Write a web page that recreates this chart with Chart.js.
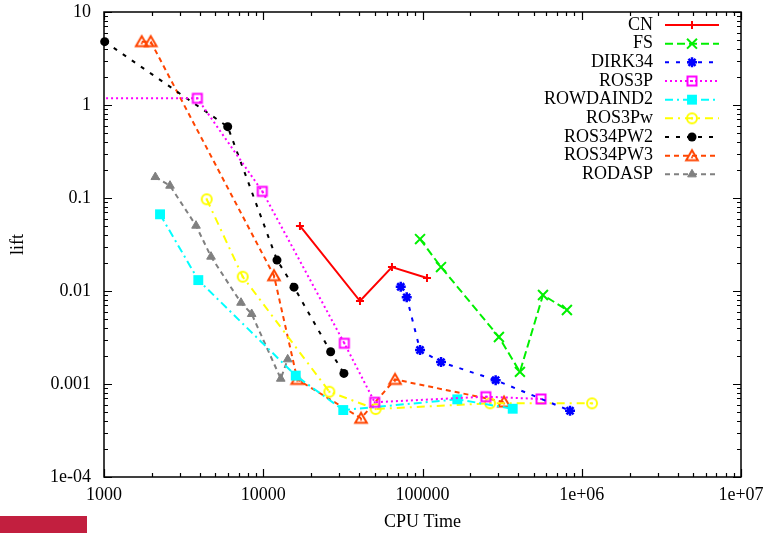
<!DOCTYPE html>
<html><head><meta charset="utf-8">
<script src="https://cdn.jsdelivr.net/npm/chart.js@4.4.1/dist/chart.umd.min.js"></script>
<style>
html,body{margin:0;padding:0;background:#fff;}
#wrap{position:relative;width:766px;height:533px;overflow:hidden;}
#badge{position:absolute;left:0;top:516px;width:87px;height:17px;background:#c21f3f;}
</style>
</head><body>
<div id="wrap"><canvas id="c" width="766" height="533"></canvas><div id="badge"></div></div>
<script>
// ---- data ----
const xTickValues = [1000, 10000, 100000, 1000000, 10000000];
const xTickLabels = ["1000", "10000", "100000", "1e+06", "1e+07"];
const yTickValues = [0.0001, 0.001, 0.01, 0.1, 1, 10];
const yTickLabels = ["1e-04", "0.001", "0.01", "0.1", "1", "10"];

const cnX = [17000, 40500, 64300, 106700];
const cnY = [0.050, 0.0078, 0.0181, 0.0138];

const fsX = [96500, 130700, 302000, 409000, 571000, 807000];
const fsY = [0.0362, 0.0181, 0.0032, 0.00135, 0.00906, 0.00625];

const dirkX = [73000, 79600, 96500, 130700, 288000, 844000];
const dirkY = [0.0111, 0.00855, 0.00232, 0.00172, 0.0011, 0.000516];

const ros3pX = [500, 3855, 9860, 32300, 50100, 250000, 555000];
const ros3pY = [1.18, 1.18, 0.118, 0.00274, 0.000636, 0.00073, 0.00069];

const rowX = [2248, 3910, 16000, 31800, 165400, 368500];
const rowY = [0.0668, 0.0131, 0.00123, 0.000525, 0.000684, 0.000542];

const ros3pwX = [4415, 7430, 26000, 50800, 265500, 1160000];
const ros3pwY = [0.0969, 0.01425, 0.000826, 0.000538, 0.00062, 0.000619];

const pw2X = [1010, 5980, 12200, 15600, 26500, 32100];
const pw2Y = [4.8, 0.585, 0.0215, 0.011, 0.00222, 0.0013];

const pw3X = [1725, 1965, 11680, 16360, 41100, 67200, 325000];
const pw3Y = [4.8, 4.8, 0.0146, 0.00112, 0.000428, 0.00112, 0.00064];

const rodaspX = [2100, 2597, 3783, 4698, 7250, 8460, 12880, 14240];
const rodaspY = [0.168, 0.1356, 0.0504, 0.0234, 0.00748, 0.00566, 0.00114, 0.00184];

// ---- marker images for open markers with centre dot ----
function mk(w, h, draw) {
  const c = document.createElement('canvas'); c.width = w; c.height = h;
  const g = c.getContext('2d'); draw(g); return c;
}
function openSquare(col) {
  return mk(14, 14, g => { g.strokeStyle = col; g.fillStyle = col; g.lineWidth = 2;
    g.strokeRect(2.5, 2.5, 9, 9); g.fillRect(6, 6, 2, 2); });
}
function openCircle(col) {
  return mk(14, 14, g => { g.strokeStyle = col; g.fillStyle = col; g.lineWidth = 2;
    g.beginPath(); g.arc(7, 7, 5, 0, Math.PI * 2); g.stroke();
    g.beginPath(); g.arc(7, 7, 1.2, 0, Math.PI * 2); g.fill(); });
}
function openTriangle(col) {
  return mk(16, 16, g => { g.strokeStyle = col; g.fillStyle = col; g.lineWidth = 2;
    g.beginPath(); g.moveTo(8, 2.5); g.lineTo(13.8, 12.5); g.lineTo(2.2, 12.5); g.closePath(); g.stroke();
    g.beginPath(); g.arc(8, 9.5, 1.1, 0, Math.PI * 2); g.fill(); });
}

const pts = (xs, ys) => xs.map((x, i) => ({ x: x, y: ys[i] }));

function ds(label, xs, ys, color, dash, style, radius, bw, extra) {
  return Object.assign({
    label: label, data: pts(xs, ys), borderColor: color, backgroundColor: color,
    borderWidth: 2, borderDash: dash, pointStyle: style, pointRadius: radius,
    pointHoverRadius: radius, pointBorderWidth: bw, pointBackgroundColor: color,
    pointBorderColor: color, tension: 0, fill: false, clip: false
  }, extra || {});
}

const datasets = [
  ds("CN", cnX, cnY, "#ff0000", [], "cross", 4, 2),
  ds("FS", fsX, fsY, "#00f000", [8, 4], "crossRot", 7, 2),
  ds("DIRK34", dirkX, dirkY, "#0000ff", [4, 7], "star", 5, 2.5),
  ds("ROS3P", ros3pX, ros3pY, "#ff00ff", [2, 3], openSquare("#ff00ff"), 6, 0, { clip: 0 }),
  ds("ROWDAIND2", rowX, rowY, "#00ffff", [8, 4, 2, 4], "rect", 7, 0),
  ds("ROS3Pw", ros3pwX, ros3pwY, "#ffff00", [8, 5, 2, 5], openCircle("#ffff00"), 6, 0),
  ds("ROS34PW2", pw2X, pw2Y, "#000000", [4, 7], "circle", 4.5, 0),
  ds("ROS34PW3", pw3X, pw3Y, "#ff4500", [5, 4], openTriangle("#ff4500"), 7, 0),
  ds("RODASP", rodaspX, rodaspY, "#808080", [5, 4], "triangle", 5, 1)
];

const FONT = '"Liberation Serif", "Times New Roman", serif';

// frame with inward ticks on all four sides (gnuplot style)
const framePlugin = {
  id: 'frame',
  afterDraw(chart) {
    const { ctx, chartArea: a, scales } = chart;
    const xs = scales.x, ys = scales.y;
    ctx.save();
    ctx.strokeStyle = '#000'; ctx.lineWidth = 1.2; ctx.setLineDash([]);
    ctx.beginPath();
    for (let d = 3; d <= 7; d++) {
      for (let m = 1; m <= 9; m++) {
        const v = m * Math.pow(10, d);
        if (v > 1e7 * 1.0001) break;
        const px = Math.round(xs.getPixelForValue(v)) + 0.5;
        const len = m === 1 ? 8 : 4;
        ctx.moveTo(px, a.bottom); ctx.lineTo(px, a.bottom - len);
        ctx.moveTo(px, a.top); ctx.lineTo(px, a.top + len);
      }
    }
    for (let d = -4; d <= 1; d++) {
      for (let m = 1; m <= 9; m++) {
        const v = m * Math.pow(10, d);
        if (v > 10 * 1.0001) break;
        const py = Math.round(ys.getPixelForValue(v)) + 0.5;
        const len = m === 1 ? 8 : 4;
        ctx.moveTo(a.left, py); ctx.lineTo(a.left + len, py);
        ctx.moveTo(a.right, py); ctx.lineTo(a.right - len, py);
      }
    }
    ctx.stroke();
    ctx.lineWidth = 1.5;
    ctx.strokeRect(a.left, a.top, a.right - a.left, a.bottom - a.top);
    ctx.restore();
  }
};

// key drawn inside the plot, right-aligned labels with line samples (gnuplot style)
const keyPlugin = {
  id: 'gkey',
  afterDatasetsDraw(chart) {
    const ctx = chart.ctx;
    ctx.save();
    chart.data.datasets.forEach((d, i) => {
      const y = 25 + i * 18.67;
      ctx.font = '18px ' + FONT;
      ctx.fillStyle = '#000';
      ctx.textAlign = 'right'; ctx.textBaseline = 'middle';
      ctx.fillText(d.label, 653, y);
      ctx.strokeStyle = d.borderColor; ctx.lineWidth = d.borderWidth;
      ctx.setLineDash(d.borderDash);
      ctx.beginPath(); ctx.moveTo(665, y); ctx.lineTo(719, y); ctx.stroke();
      ctx.setLineDash([]);
      ctx.fillStyle = d.pointBackgroundColor; ctx.strokeStyle = d.pointBorderColor;
      ctx.lineWidth = d.pointBorderWidth;
      Chart.helpers.drawPoint(ctx, { pointStyle: d.pointStyle, radius: d.pointRadius,
        borderWidth: d.pointBorderWidth, rotation: 0 }, 692, y);
    });
    ctx.restore();
  }
};

new Chart(document.getElementById('c'), {
  type: 'line',
  data: { datasets: datasets },
  plugins: [framePlugin, keyPlugin],
  options: {
    responsive: false, animation: false, devicePixelRatio: 1,
    layout: { padding: { left: 0, right: 25, top: 12, bottom: 0 } },
    plugins: { legend: { display: false }, tooltip: { enabled: false } },
    scales: {
      x: {
        type: 'logarithmic', min: 1000, max: 10000000,
        grid: { display: false, drawTicks: false, tickLength: 0 },
        border: { display: false },
        afterBuildTicks: s => { s.ticks = xTickValues.map(v => ({ value: v })); },
        afterFit: s => { s.height = 56; s.paddingLeft = 0; s.paddingRight = 0; },
        ticks: {
          autoSkip: false, maxRotation: 0, minRotation: 0, padding: 7,
          color: '#000', font: { family: FONT, size: 18 },
          callback: v => xTickLabels[xTickValues.indexOf(v)]
        },
        title: { display: true, text: 'CPU Time', color: '#000', font: { family: FONT, size: 18 }, padding: 0 }
      },
      y: {
        type: 'logarithmic', min: 0.0001, max: 10,
        grid: { display: false, drawTicks: false, tickLength: 0 },
        border: { display: false },
        afterBuildTicks: s => { s.ticks = yTickValues.map(v => ({ value: v })); },
        afterFit: s => { s.width = 104; s.paddingTop = 0; s.paddingBottom = 0; },
        ticks: {
          autoSkip: false, padding: 13,
          color: '#000', font: { family: FONT, size: 18 },
          callback: v => yTickLabels[yTickValues.indexOf(v)]
        },
        title: { display: true, text: 'lift', color: '#000', font: { family: FONT, size: 18 }, padding: { top: 7, bottom: 0 } }
      }
    }
  }
});
</script>
</body></html>
